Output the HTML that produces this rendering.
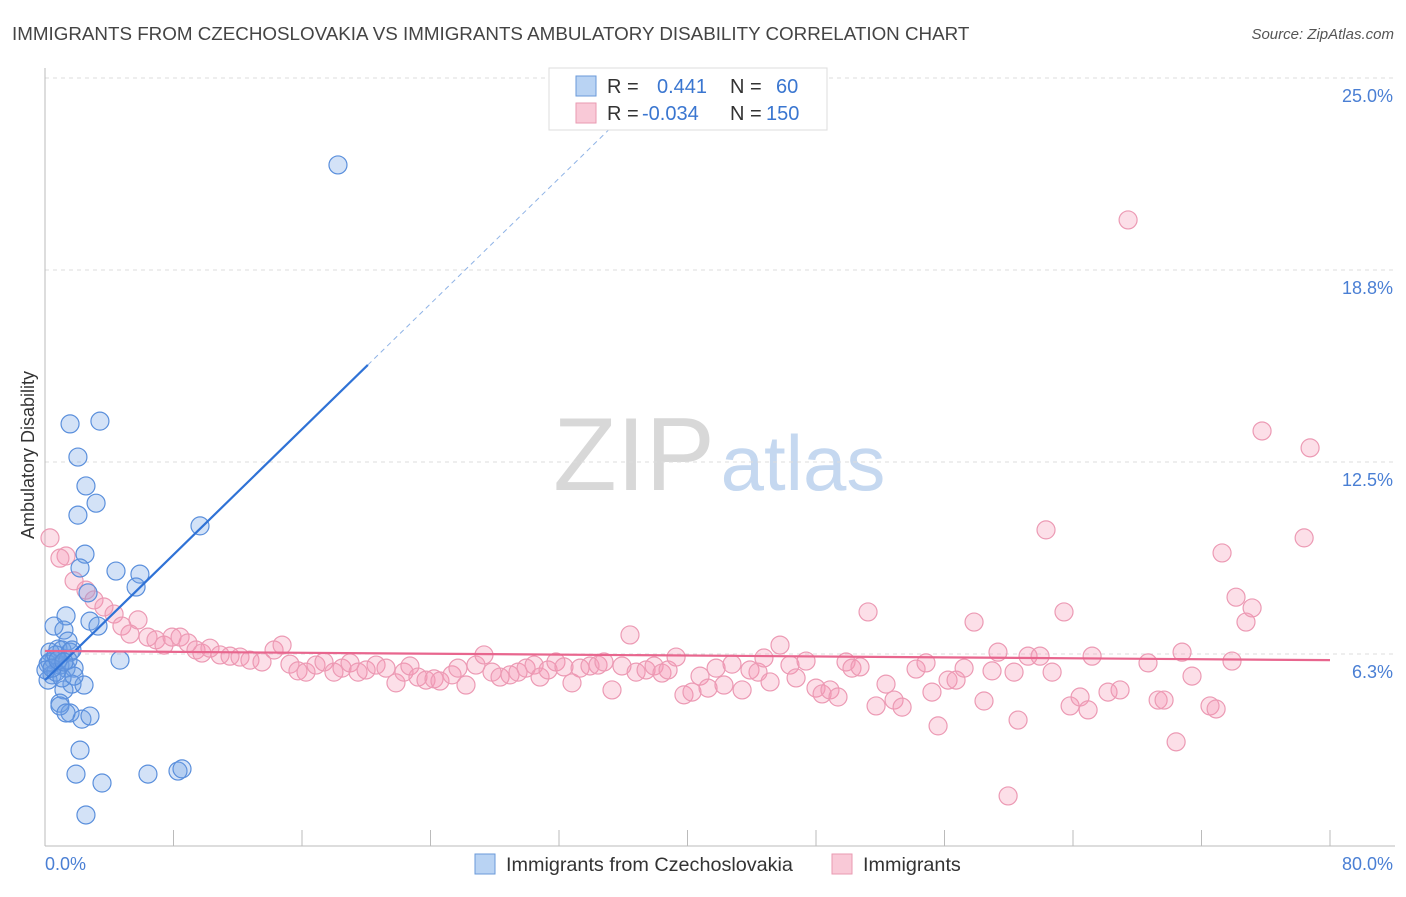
<!DOCTYPE html>
<html><head><meta charset="utf-8"><style>
body{margin:0;background:#fff;font-family:"Liberation Sans",sans-serif}
svg text{font-family:"Liberation Sans",sans-serif}
</style></head><body>
<svg width="1406" height="892" xmlns="http://www.w3.org/2000/svg">
<text x="12" y="40" font-size="18.8" fill="#444">IMMIGRANTS FROM CZECHOSLOVAKIA VS IMMIGRANTS AMBULATORY DISABILITY CORRELATION CHART</text>
<text x="1394" y="39" font-size="15" fill="#555" font-style="italic" text-anchor="end">Source: ZipAtlas.com</text>
<g>
<text x="634" y="490" font-size="104" fill="#d8d8d8" font-family="Liberation Serif" text-anchor="middle">ZIP</text>
<text x="803" y="490" font-size="78" fill="#c5d8f0" text-anchor="middle">atlas</text>
</g>
<g id="grid"></g>
<g id="axes"></g>
<g id="lines"></g>
<g id="pts"></g>
<text transform="translate(34,455) rotate(-90)" font-size="18" fill="#333" text-anchor="middle">Ambulatory Disability</text>
<text x="45" y="870" font-size="18" fill="#4a7fd4">0.0%</text>
<text x="1393" y="870" font-size="18" fill="#4a7fd4" text-anchor="end">80.0%</text>
<g>
<rect x="549" y="68" width="278" height="62" fill="#fff" stroke="#ddd"/>
<rect x="576" y="76" width="20" height="20" fill="#b9d3f3" stroke="#6a9ad8"/>
<rect x="576" y="103" width="20" height="20" fill="#f9c9d7" stroke="#e99ab2"/>
<text x="607" y="93" font-size="20" fill="#333">R = <tspan fill="#3a76d0" x="657">0.441</tspan><tspan x="730" fill="#333">N = </tspan><tspan fill="#3a76d0" x="776">60</tspan></text>
<text x="607" y="120" font-size="20" fill="#333">R = <tspan fill="#3a76d0" x="642">-0.034</tspan><tspan x="730" fill="#333">N = </tspan><tspan fill="#3a76d0" x="766">150</tspan></text>
</g>
<g>
<rect x="475" y="854" width="20" height="20" fill="#b9d3f3" stroke="#6a9ad8"/>
<text x="506" y="871" font-size="19.8" fill="#333">Immigrants from Czechoslovakia</text>
<rect x="832" y="854" width="20" height="20" fill="#f9c9d7" stroke="#e99ab2"/>
<text x="863" y="871" font-size="19.8" fill="#333">Immigrants</text>
</g>
</svg>
<script>
const yTicks=[6.25,12.5,18.75,25];
const yTickLabels=["6.3%","12.5%","18.8%","25.0%"];
const xTicks=[0,8,16,24,32,40,48,56,64,72,80];
const blueX=[18.24,1.56,3.42,2.05,2.55,3.18,2.05,2.49,2.18,4.42,5.91,5.67,2.68,9.65,1.31,.56,1.18,2.80,3.30,1.43,.81,.31,1.06,1.56,.56,.19,.93,1.31,.44,.19,.68,1.81,1.68,2.43,1.18,4.67,.93,1.56,.93,2.30,2.80,1.31,2.18,1.93,3.55,6.41,8.28,8.53,2.55,1.06,.31,.68,1.68,.06,.44,1.43,.81,1.18,1.81];
const blueY=[22.17,13.74,13.83,12.66,11.72,11.16,10.77,9.50,9.05,8.95,8.85,8.43,8.24,10.42,7.49,7.16,7.03,7.32,7.16,6.67,6.41,6.31,6.38,6.31,6.05,5.92,5.89,5.79,5.57,5.40,5.66,5.79,5.27,5.24,5.08,6.05,4.65,4.33,4.56,4.13,4.23,4.33,3.12,2.34,2.05,2.34,2.44,2.51,1.01,5.47,5.99,6.22,6.38,5.73,5.79,6.05,6.05,5.99,5.53];
const pinkX=[.31,1.31,.93,1.81,2.55,3.05,3.67,4.30,4.79,5.29,5.79,6.41,6.91,7.41,7.91,8.41,8.90,9.40,9.77,10.27,10.90,11.52,12.14,12.76,13.51,14.26,14.76,15.25,15.75,16.25,16.87,17.37,17.99,18.49,18.99,19.49,19.99,20.61,21.23,21.85,22.35,22.72,23.22,23.72,24.22,24.59,25.34,25.71,26.21,26.83,27.33,27.83,28.33,28.95,29.45,29.95,30.45,30.82,31.32,31.81,32.31,32.81,33.31,33.93,34.43,34.80,35.30,35.92,36.42,36.80,37.42,37.92,38.41,38.79,39.29,39.78,40.28,40.78,41.28,41.78,42.27,42.77,43.40,43.89,44.39,44.76,45.14,45.76,46.38,46.76,47.38,48.00,48.38,48.87,49.37,49.87,50.24,50.74,51.24,51.74,52.36,52.86,53.36,54.23,54.85,55.22,55.60,56.22,56.72,57.22,57.84,58.46,58.96,59.33,59.96,60.33,60.58,61.20,61.95,62.32,62.70,63.44,63.82,64.44,64.94,65.19,66.18,66.93,67.43,68.67,69.30,69.67,70.42,70.79,71.41,72.53,72.91,73.28,73.90,74.15,74.77,75.15,75.77,78.39,78.76];
const pinkY=[10.03,9.44,9.37,8.63,8.33,8.01,7.78,7.55,7.16,6.90,7.36,6.80,6.71,6.54,6.80,6.80,6.61,6.38,6.28,6.44,6.22,6.18,6.15,6.05,5.99,6.38,6.54,5.92,5.70,5.66,5.89,5.99,5.66,5.79,5.96,5.66,5.73,5.89,5.79,5.31,5.66,5.86,5.50,5.40,5.44,5.37,5.57,5.79,5.24,5.89,6.22,5.66,5.50,5.57,5.66,5.79,5.89,5.50,5.73,5.99,5.83,5.31,5.79,5.86,5.89,5.99,5.08,5.86,6.87,5.66,5.73,5.86,5.63,5.73,6.15,4.92,5.01,5.53,5.14,5.79,5.24,5.92,5.08,5.73,5.66,6.12,5.34,6.54,5.89,5.47,6.02,5.14,4.95,5.08,4.85,5.99,5.79,5.83,7.62,4.56,5.27,4.75,4.52,5.76,5.96,5.01,3.91,5.40,5.40,5.79,7.29,4.72,5.70,6.31,1.63,5.66,4.10,6.18,6.18,10.29,5.66,7.62,4.56,4.85,4.43,6.18,5.01,5.08,20.38,5.96,4.75,4.75,3.39,6.31,5.53,4.56,4.46,9.54,6.02,8.10,7.29,7.75,13.51,10.03,12.96];
const blueTrend=[[0,5.40],[20.1,15.66]];
const blueDash=[[20.1,15.66],[38.4,25]];
const pinkTrend=[[0,6.35],[80,6.05]];
const NS="http://www.w3.org/2000/svg";
const sx=v=>45+v/80*1285, sy=v=>846-v/6.25*192;
function mk(tag,attrs,parent){const e=document.createElementNS(NS,tag);for(const k in attrs)e.setAttribute(k,attrs[k]);document.getElementById(parent).appendChild(e);return e;}
yTicks.forEach((t,i)=>{
  const g=mk('line',{x1:45,x2:1395,y1:sy(t),y2:sy(t),stroke:'#ddd','stroke-dasharray':'4,4'},'grid');
  
  
  const tx=mk('text',{x:1393,y:sy(t)+24,'font-size':18,fill:'#4a7fd4','text-anchor':'end'},'grid');
  tx.textContent=yTickLabels[i];
  
  
});
let a=mk('line',{x1:45,x2:45,y1:68,y2:846,stroke:'#bbb'},'axes');


a=mk('line',{x1:45,x2:1395,y1:846,y2:846,stroke:'#bbb'},'axes');


xTicks.forEach(t=>{const l=mk('line',{x1:sx(t),x2:sx(t),y1:830,y2:846,stroke:'#bbb'},'axes');
  
  });
function pt(x,y,fill,stroke,name){const c=mk('circle',{cx:sx(x),cy:sy(y),r:9,fill:fill,stroke:stroke,'stroke-width':1.2},'pts');
  
  }
pinkX.forEach((x,i)=>pt(x,pinkY[i],'rgba(244,150,180,0.3)','#ec9ab4','immigrants-point'));
blueX.forEach((x,i)=>pt(x,blueY[i],'rgba(110,160,230,0.3)','#5a8fdc','czech-point'));
let l=mk('line',{x1:sx(blueTrend[0][0]),y1:sy(blueTrend[0][1]),x2:sx(blueTrend[1][0]),y2:sy(blueTrend[1][1]),stroke:'#2f72d6','stroke-width':2.2},'pts');


l=mk('line',{x1:sx(blueDash[0][0]),y1:sy(blueDash[0][1]),x2:sx(blueDash[1][0]),y2:sy(blueDash[1][1]),stroke:'#8fb3e6','stroke-width':1,'stroke-dasharray':'5,4'},'lines');


l=mk('line',{x1:sx(pinkTrend[0][0]),y1:sy(pinkTrend[0][1]),x2:sx(pinkTrend[1][0]),y2:sy(pinkTrend[1][1]),stroke:'#e8668e','stroke-width':2.2},'pts');


</script>
</body></html>
